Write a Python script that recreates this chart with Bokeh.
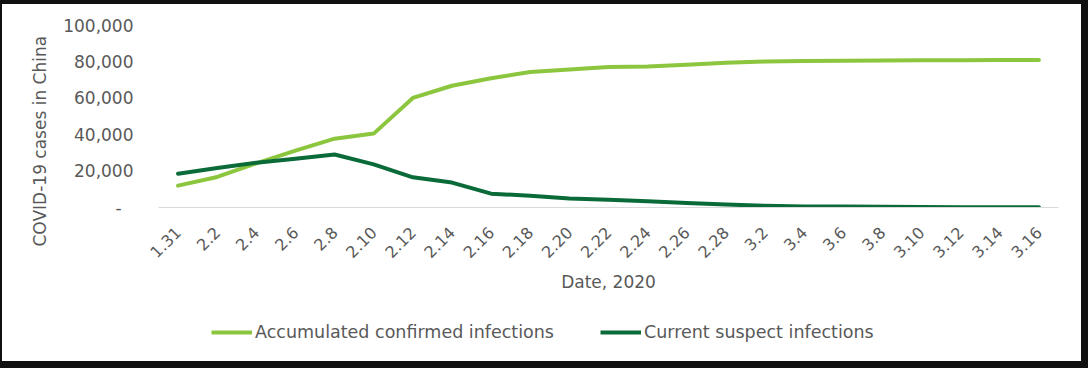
import math
from bokeh.plotting import figure
from bokeh.layouts import column
from bokeh.models import (FactorRange, Range1d, FixedTicker, NumeralTickFormatter,
                          Legend, LegendItem, ColumnDataSource, Title)
from bokeh.embed import file_html
from bokeh.resources import INLINE

# ---- data ----
dates = ["1.31", "2.2", "2.4", "2.6", "2.8", "2.10", "2.12", "2.14", "2.16", "2.18",
         "2.20", "2.22", "2.24", "2.26", "2.28", "3.2", "3.4", "3.6", "3.8", "3.10",
         "3.12", "3.14", "3.16"]
confirmed = [12000, 16800, 24300, 31300, 37800, 40600, 60200, 66900, 71000, 74500,
             75800, 77200, 77500, 78500, 79500, 80200, 80500, 80700, 80800, 80850,
             80900, 81000, 81000]
suspect = [18600, 21700, 24600, 26800, 29100, 23700, 16600, 13700, 7600, 6400,
           5000, 4300, 3500, 2500, 1600, 900, 600, 500, 450, 300,
           200, 150, 130]
y_ticks = [0, 20000, 40000, 60000, 80000, 100000]
series_names = ["Accumulated confirmed infections", "Current suspect infections"]
series_fields = ["confirmed", "suspect"]
series_colors = ["#8CC63E", "#0A6B39"]
y_title = "COVID-19 cases in China"
x_title = "Date, 2020"

TEXT = "#595959"
FONT = "DejaVu Sans"

src = ColumnDataSource(data=dict(date=dates, confirmed=confirmed, suspect=suspect))

# ---------------- main chart ----------------
p = figure(width=1079, height=308,
           x_range=FactorRange(factors=dates, range_padding=0),
           y_range=Range1d(0, 100000),
           output_backend="svg", toolbar_location=None,
           min_border_left=156, min_border_right=23,
           min_border_top=21, min_border_bottom=105)
p.outline_line_color = None
p.xgrid.visible = False
p.ygrid.visible = False
p.background_fill_color = "white"
p.border_fill_color = "white"

for field, col in zip(series_fields, series_colors):
    p.line("date", field, source=src, line_color=col,
           line_width=4, line_join="round", line_cap="round")

# x axis
xa = p.xaxis[0]
xa.axis_line_color = "#D9D9D9"
xa.axis_line_width = 1
xa.major_tick_line_color = None
xa.minor_tick_line_color = None
xa.major_label_orientation = math.pi / 4
xa.major_label_text_font = FONT
xa.major_label_text_font_size = "16px"
xa.major_label_text_color = TEXT
xa.major_label_standoff = 16
xa.axis_label = x_title
xa.axis_label_text_font = FONT
xa.axis_label_text_font_size = "17px"
xa.axis_label_text_font_style = "normal"
xa.axis_label_text_color = TEXT
xa.axis_label_standoff = 6

# y axis
ya = p.yaxis[0]
ya.ticker = FixedTicker(ticks=y_ticks)
ya.formatter = NumeralTickFormatter(format="0,0")
ya.major_label_overrides = {0: "-\u2002\u2009"}
ya.axis_line_color = None
ya.major_tick_line_color = None
ya.minor_tick_line_color = None
ya.major_label_text_font = FONT
ya.major_label_text_font_size = "17px"
ya.major_label_text_color = TEXT
ya.major_label_standoff = 19

# y title as a side title so it can be shifted along the axis
yt = Title(text=y_title, align="left", offset=-39,
           text_font=FONT, text_font_size="17px", text_font_style="normal",
           text_color=TEXT, standoff=22)
p.add_layout(yt, "left")

# ---------------- legend strip below ----------------
leg = figure(width=1079, height=49,
             x_range=FactorRange(factors=dates, range_padding=0),
             y_range=Range1d(0, 100000),
             output_backend="svg", toolbar_location=None,
             x_axis_location=None, y_axis_location=None, min_border=0)
leg.outline_line_color = None
leg.xgrid.visible = False
leg.ygrid.visible = False
leg.border_fill_color = "white"
leg.background_fill_color = "white"

items = []
for name, field, col in zip(series_names, series_fields, series_colors):
    r = leg.line("date", field, source=src, line_color=col, line_width=4, visible=False)
    items.append(LegendItem(label=name, renderers=[r]))

legend = Legend(items=items, orientation="horizontal", location=(53, 19),
                border_line_color=None, background_fill_alpha=0,
                label_text_font=FONT, label_text_font_size="17.5px",
                label_text_color=TEXT, glyph_width=41, glyph_height=20,
                label_standoff=3, spacing=46, padding=5, margin=0,
                inactive_fill_alpha=0)
leg.add_layout(legend)

layout = column(p, leg, spacing=0)

html = file_html(layout, INLINE)
style = ("<style>html{background:#101010;} "
         "body{background:#ffffff !important; border-style:solid !important; "
         "border-color:#101010 !important; border-width:4px 7px 7px 2px !important;}</style>")
html = html.replace("<head>", "<head>" + style, 1)
open("out.html", "w").write(html)
